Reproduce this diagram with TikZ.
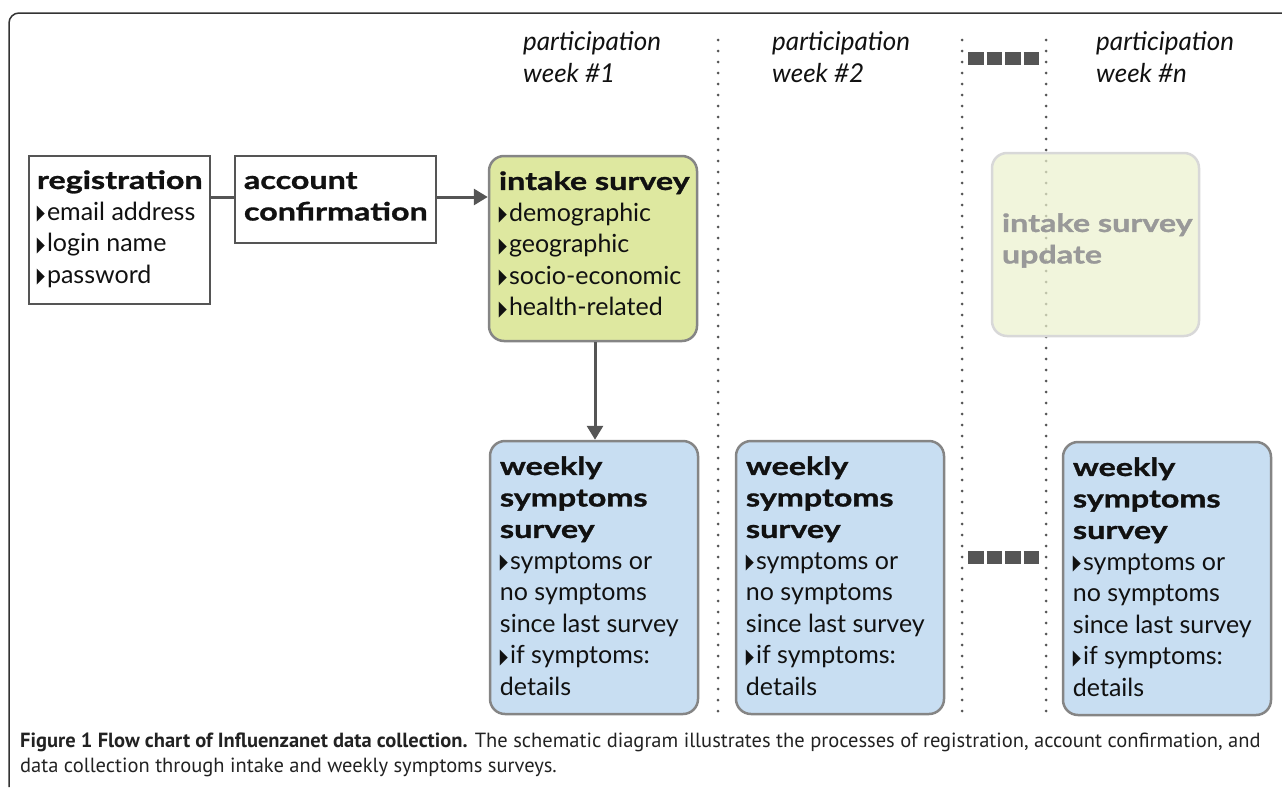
\documentclass[tikz,border=0pt]{standalone}
\usepackage{fontspec}
\setmainfont{Lato}
\newfontfamily\headfont{Lato}[FakeStretch=1.29, FakeBold=1.2]
\newfontfamily\capfont{PT Sans}
\newfontfamily\symfont{DejaVu Sans}
\usetikzlibrary{calc,arrows.meta}
\definecolor{edgec}{HTML}{555555}
\definecolor{boxgray}{HTML}{858585}
\definecolor{intakefill}{HTML}{DEE8A0}
\definecolor{fadefill}{HTML}{EBF1CD}
\definecolor{fadeedge}{HTML}{D8D8D8}
\definecolor{fadetext}{HTML}{999999}
\definecolor{weekfill}{HTML}{C8DEF2}
\definecolor{dotc}{HTML}{555555}
\definecolor{framec}{HTML}{333333}
\definecolor{textc}{HTML}{111111}
\definecolor{capc}{HTML}{222222}
\newcommand\tri{\raisebox{0.5pt}{\scalebox{0.5}[1]{\symfont\fontsize{21}{21}\selectfont ▶}}\hspace{2pt}}
\newcommand\hd{\headfont\bfseries}
\newcommand\fs{\rule{0pt}{20pt}}
\begin{document}
\begin{tikzpicture}[x=1pt,y=-1pt,
  plainbox/.style={draw=edgec, line width=2.5pt, inner sep=0},
  intakebox/.style={draw=boxgray, fill=intakefill, line width=2.5pt, rounded corners=15pt, inner sep=0, minimum width=208pt, minimum height=185pt},
  fadebox/.style={draw=fadeedge, fill=fadefill, fill opacity=0.7, line width=2.5pt, rounded corners=15pt, inner sep=0, minimum width=207pt, minimum height=183pt},
  weekbox/.style={draw=boxgray, fill=weekfill, line width=2.5pt, rounded corners=15pt, inner sep=0, minimum width=208pt, minimum height=273pt},
  txt/.style={anchor=north west, inner sep=0, align=left, text=textc, font=\fontsize{25}{31.5}\selectfont},
  head/.style={anchor=north west, inner sep=0, align=left, text=textc, font=\itshape\fontsize{26}{32}\selectfont},
  conn/.style={draw=edgec, line width=3pt},
  arr/.style={conn, -{Triangle[length=14pt, width=16pt]}},
  sep/.style={dotc, line width=3pt, line cap=round, dash pattern=on 0pt off 11pt},
  marker/.style={dotc, line width=13pt, dash pattern=on 15.5pt off 3pt}
]
\useasboundingbox (0,0) rectangle (1282,787);
% outer frame
\draw[framec, line width=1.5pt, rounded corners=10pt] (9,787) -- (9,13) -- (1282,13);

% column headers
\node[head] (h1) at (523,30) {\fs participation\\week \#1};
\node[head] (h2) at (772,30) {\fs participation\\week \#2};
\node[head] (hn) at (1096,30) {\fs participation\\week \#n};

% separators
\draw[sep] (718,40) -- (718,716);
\draw[sep] (962,40) -- (962,716);
\draw[sep] (1046,40) -- (1046,716);
\draw[marker] (968,58) -- (1039,58);
\draw[marker] (968,557) -- (1039,557);

% boxes
\node[plainbox, minimum width=181pt, minimum height=148pt] (reg) at (119.5,230) {};
\node[txt] (regt) at ($(reg.north west)+(9,14)$) {\fs{\hd registration}\\\tri email address\\\tri login name\\\tri password};

\node[plainbox, minimum width=201pt, minimum height=87pt] (acc) at (335.5,199.5) {};
\node[txt] (acct) at ($(acc.north west)+(10,14)$) {\fs{\hd account}\\{\hd confirmation}};

\node[intakebox] (intake) at (593,248.5) {};
\node[txt] (intaket) at ($(intake.north west)+(11,15)$) {\fs{\hd intake survey}\\\tri demographic\\\tri geographic\\\tri socio-economic\\\tri health-related};

\node[fadebox] (fade) at (1095.5,244.5) {};
\node[txt, text=fadetext] (fadet) at ($(fade.north west)+(11,60)$) {\fs{\hd intake survey}\\{\hd update}};

\node[weekbox] (w1) at (594,577.5) {};
\node[txt] (w1t) at ($(w1.north west)+(11,15)$) {\fs{\hd weekly}\\{\hd symptoms}\\{\hd survey}\\\tri symptoms or\\no symptoms\\since last survey\\\tri if symptoms:\\details};

\node[weekbox] (w2) at (840,577.5) {};
\node[txt] (w2t) at ($(w2.north west)+(11,15)$) {\fs{\hd weekly}\\{\hd symptoms}\\{\hd survey}\\\tri symptoms or\\no symptoms\\since last survey\\\tri if symptoms:\\details};

\node[weekbox] (wn) at (1167,578.5) {};
\node[txt] (wnt) at ($(wn.north west)+(11,15)$) {\fs{\hd weekly}\\{\hd symptoms}\\{\hd survey}\\\tri symptoms or\\no symptoms\\since last survey\\\tri if symptoms:\\details};

% connectors
\draw[conn] (reg.east |- 0,197) -- (acc.west |- 0,197);
\draw[arr] (acc.east |- 0,197) -- (intake.west |- 0,197);
\draw[arr] (intake.south -| 595,0) -- (w1.north -| 595,0);

% caption
\node[anchor=north west, inner sep=0, align=left, text=capc, font=\capfont\fontsize{20.5}{25}\selectfont] (cap) at (20,732)
 {\rule{0pt}{15pt}\textbf{Figure 1 Flow chart of Influenzanet data collection.} The schematic diagram illustrates the processes of registration, account confirmation, and\\data collection through intake and weekly symptoms surveys.};
\end{tikzpicture}
\end{document}
